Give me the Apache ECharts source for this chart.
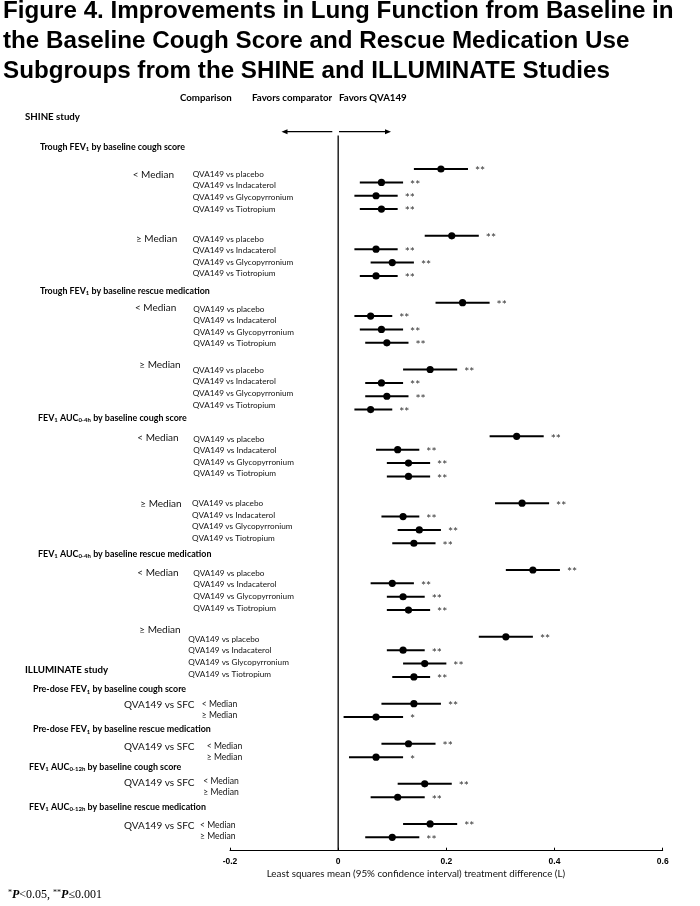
<!DOCTYPE html>
<html><head><meta charset="utf-8">
<script src="https://cdn.jsdelivr.net/npm/echarts@6/dist/echarts.min.js"></script>
<style>html,body{margin:0;padding:0;background:#fff}#c{width:700px;height:906px}</style>
</head><body><div id="c"></div>
<script>
// ---------------- DATA ----------------
const titleLines = [
  "Figure 4. Improvements in Lung Function from Baseline in",
  "the Baseline Cough Score and Rescue Medication Use",
  "Subgroups from the SHINE and ILLUMINATE Studies"
];
const columnHeaders = ["Comparison", "Favors comparator", "Favors QVA149"];
const studyNames = ["SHINE study", "ILLUMINATE study"];
const shineEndpoints = [
  "Trough FEV_{1} by baseline cough score",
  "Trough FEV_{1} by baseline rescue medication",
  "FEV_{1} AUC_{0-4h} by baseline cough score",
  "FEV_{1} AUC_{0-4h} by baseline rescue medication"
];
const illuminateEndpoints = [
  "Pre-dose FEV_{1} by baseline cough score",
  "Pre-dose FEV_{1} by baseline rescue medication",
  "FEV_{1} AUC_{0-12h} by baseline cough score",
  "FEV_{1} AUC_{0-12h} by baseline rescue medication"
];
const subgroups = ["< Median", "\u2265 Median"];
const shineComparisons = ["QVA149 vs placebo", "QVA149 vs Indacaterol", "QVA149 vs Glycopyrronium", "QVA149 vs Tiotropium"];
const illuminateComparison = "QVA149 vs SFC";
const xTicks = [-0.2, 0, 0.2, 0.4, 0.6];
const xAxisTitle = "Least squares mean (95% confidence interval) treatment difference (L)";
const footnote = "{sup|*}{p|P}{r|<0.05, }{sup|**}{p|P}{r|\u22640.001}";

// 40 rows: SHINE 8 subgroups x 4 comparisons, then ILLUMINATE 4 endpoints x 2 subgroups
const meanDiff = [
  0.19, 0.08, 0.07, 0.08,
  0.21, 0.07, 0.10, 0.07,
  0.23, 0.06, 0.08, 0.09,
  0.17, 0.08, 0.09, 0.06,
  0.33, 0.11, 0.13, 0.13,
  0.34, 0.12, 0.15, 0.14,
  0.36, 0.10, 0.12, 0.13,
  0.31, 0.12, 0.16, 0.14,
  0.14, 0.07,
  0.13, 0.07,
  0.16, 0.11,
  0.17, 0.10
];
const ciLower = [
  0.14, 0.04, 0.03, 0.04,
  0.16, 0.03, 0.06, 0.04,
  0.18, 0.03, 0.04, 0.05,
  0.12, 0.05, 0.05, 0.03,
  0.28, 0.07, 0.09, 0.09,
  0.29, 0.08, 0.11, 0.10,
  0.31, 0.06, 0.09, 0.09,
  0.26, 0.09, 0.12, 0.10,
  0.08, 0.01,
  0.08, 0.02,
  0.11, 0.06,
  0.12, 0.05
];
const ciUpper = [
  0.24, 0.12, 0.11, 0.11,
  0.26, 0.11, 0.14, 0.11,
  0.28, 0.10, 0.12, 0.13,
  0.22, 0.12, 0.13, 0.10,
  0.38, 0.15, 0.17, 0.17,
  0.39, 0.15, 0.19, 0.18,
  0.41, 0.14, 0.16, 0.17,
  0.36, 0.16, 0.20, 0.17,
  0.19, 0.12,
  0.18, 0.12,
  0.21, 0.16,
  0.22, 0.15
];
const significance = [
  "**","**","**","**",
  "**","**","**","**",
  "**","**","**","**",
  "**","**","**","**",
  "**","**","**","**",
  "**","**","**","**",
  "**","**","**","**",
  "**","**","**","**",
  "**","*",
  "**","*",
  "**","**",
  "**","**"
];
const groupSizes = [4,4,4,4,4,4,4,4,2,2,2,2];

// ---------------- LAYOUT ----------------
const rowSlot = [];
(function () {
  let s = 0;
  groupSizes.forEach(n => { for (let i = 0; i < n; i++) rowSlot.push(s++); s++; });
})();
const seriesData = meanDiff.map((m, i) => [rowSlot[i], m, ciLower[i], ciUpper[i]]);

const FONT = 'Lato, "Open Sans", sans-serif';
const TXT = '#000';

function richify(str) {
  const parts = str.split(/_\{([^}]*)\}/);
  let out = '';
  parts.forEach((p, i) => { if (p) out += (i % 2 ? '{s|' : '{b|') + p + '}'; });
  return out;
}
const headRich = {
  b: { fontFamily: FONT, fontWeight: 'bold', fontSize: 8.9, fill: TXT, color: TXT },
  s: { fontFamily: FONT, fontWeight: 'bold', fontSize: 6, fill: TXT, color: TXT, padding: [5, 0, 0, 0] }
};
function txt(x, y, text, font, fill) {
  return { type: 'text', x: x, y: y, silent: true,
    style: { text: text, font: font, fill: fill || TXT, align: 'left', verticalAlign: 'middle' } };
}
function richTxt(x, y, text, rich) {
  return { type: 'text', x: x, y: y, silent: true,
    style: { text: text, rich: rich, fill: TXT, align: 'left', verticalAlign: 'middle' } };
}

const graphics = [];
// title
const titleY = [11.8, 41.3, 70.9];
titleLines.forEach((t, i) => graphics.push(txt(3, titleY[i], t, 'bold 24.2px "Liberation Sans", Arial, sans-serif', '#000')));
// column headers
const headerX = [180, 252, 339];
columnHeaders.forEach((t, i) => graphics.push(txt(headerX[i], 98, t, 'bold 9.7px ' + FONT)));
// study names
graphics.push(txt(25, 116.7, studyNames[0], 'bold 9.7px ' + FONT));
graphics.push(txt(25, 670, studyNames[1], 'bold 9.7px ' + FONT));
// SHINE endpoints
const shineHeadPos = [[40, 146.7], [40, 290.7], [38, 418], [38, 554]];
shineEndpoints.forEach((t, i) => graphics.push(richTxt(shineHeadPos[i][0], shineHeadPos[i][1], richify(t), headRich)));
// SHINE subgroup + comparison labels
const subPos = [[132.7,174.3],[136,239],[135,307.3],[139.3,364.3],[137.3,437.3],[140.3,503.3],[137.3,572.3],[139.3,630]];
const compX = [192.7,192.7,193.3,192.7,193.3,192,193.3,188.3];
const compY0 = [174.3,239,309,370.3,439,503.7,573.3,639.3];
for (let g = 0; g < 8; g++) {
  graphics.push(txt(subPos[g][0], subPos[g][1], subgroups[g % 2], '10px ' + FONT, '#111'));
  shineComparisons.forEach((c, k) => graphics.push(txt(compX[g], compY0[g] + k * 11.55, c, '8.2px ' + FONT, '#111')));
}
// ILLUMINATE
const illHeadPos = [[33, 689.3], [33, 729.3], [29, 766.7], [29, 806.7]];
const illCompY = [704.3, 746.7, 782.3, 825.7];
const illSubX = [201.7, 206.7, 203.3, 200];
const illSubY = [[704.3, 715], [746, 757], [781, 792.7], [825, 836.3]];
illuminateEndpoints.forEach((t, i) => {
  graphics.push(richTxt(illHeadPos[i][0], illHeadPos[i][1], richify(t), headRich));
  graphics.push(txt(124, illCompY[i], illuminateComparison, '10px ' + FONT, '#111'));
  subgroups.forEach((s, k) => graphics.push(txt(illSubX[i], illSubY[i][k], s, '8.6px ' + FONT, '#111')));
});
// direction arrows
graphics.push({ type: 'line', silent: true, shape: { x1: 286, y1: 131.7, x2: 332.3, y2: 131.7 }, style: { stroke: '#000', lineWidth: 1.2 } });
graphics.push({ type: 'polygon', silent: true, shape: { points: [[281.5, 131.7], [287.5, 129.2], [287.5, 134.2]] }, style: { fill: '#000' } });
graphics.push({ type: 'line', silent: true, shape: { x1: 339, y1: 131.7, x2: 386, y2: 131.7 }, style: { stroke: '#000', lineWidth: 1.2 } });
graphics.push({ type: 'polygon', silent: true, shape: { points: [[391, 131.7], [385, 129.2], [385, 134.2]] }, style: { fill: '#000' } });
// axis title
graphics.push(txt(266.7, 874.3, xAxisTitle, '9.8px ' + FONT, '#111'));
// footnote
graphics.push(richTxt(8, 895, footnote, {
  sup: { fontFamily: '"Liberation Serif", serif', fontSize: 8, fill: TXT, color: TXT, padding: [0, 0, 5, 0] },
  p: { fontFamily: '"Liberation Serif", serif', fontSize: 12, fontWeight: 'bold', fontStyle: 'italic', fill: TXT, color: TXT },
  r: { fontFamily: '"Liberation Serif", serif', fontSize: 12, fill: TXT, color: TXT }
}));

// ---------------- CHART ----------------
const chart = echarts.init(document.getElementById('c'), null, { renderer: 'canvas' });
chart.setOption({
  animation: false,
  backgroundColor: '#fff',
  grid: { left: 230, right: 37.3, top: 135.6, bottom: 55.3, containLabel: false },
  xAxis: {
    type: 'value', min: xTicks[0], max: xTicks[xTicks.length - 1], interval: 0.2,
    axisLine: { onZero: false, lineStyle: { color: '#000', width: 1 } },
    axisTick: { show: true, inside: true, length: 3, lineStyle: { color: '#000' } },
    axisLabel: { color: '#000', fontWeight: 'bold', fontSize: 8.5, fontFamily: '"Liberation Sans", Arial, sans-serif', margin: 6,
      formatter: v => String(Math.round(v * 10) / 10) },
    splitLine: { show: false }
  },
  yAxis: { type: 'value', inverse: true, min: -2.5, max: 51, show: false },
  graphic: graphics,
  series: [
    {
      type: 'line', silent: true, symbol: 'none',
      data: [[0, -2.5], [0, 51]],
      lineStyle: { color: '#000', width: 1.3 }, z: 1
    },
    {
      type: 'custom', silent: true, z: 3,
      encode: { x: [1, 2, 3], y: 0 },
      data: seriesData,
      renderItem: function (params, api) {
        const y = api.value(0);
        const pLo = api.coord([api.value(2), y]);
        const pHi = api.coord([api.value(3), y]);
        const pM = api.coord([api.value(1), y]);
        return {
          type: 'group', children: [
            { type: 'line', shape: { x1: pLo[0], y1: pLo[1], x2: pHi[0], y2: pHi[1] }, style: { stroke: '#000', lineWidth: 2 } },
            { type: 'circle', shape: { cx: pM[0], cy: pM[1], r: 3.6 }, style: { fill: '#000' } },
            { type: 'text', x: pHi[0] + 7, y: pHi[1] + 2.5,
              style: { text: significance[params.dataIndex], font: '12px ' + FONT, fill: '#333', align: 'left', verticalAlign: 'middle' } }
          ]
        };
      }
    }
  ]
});
</script>
</body></html>
